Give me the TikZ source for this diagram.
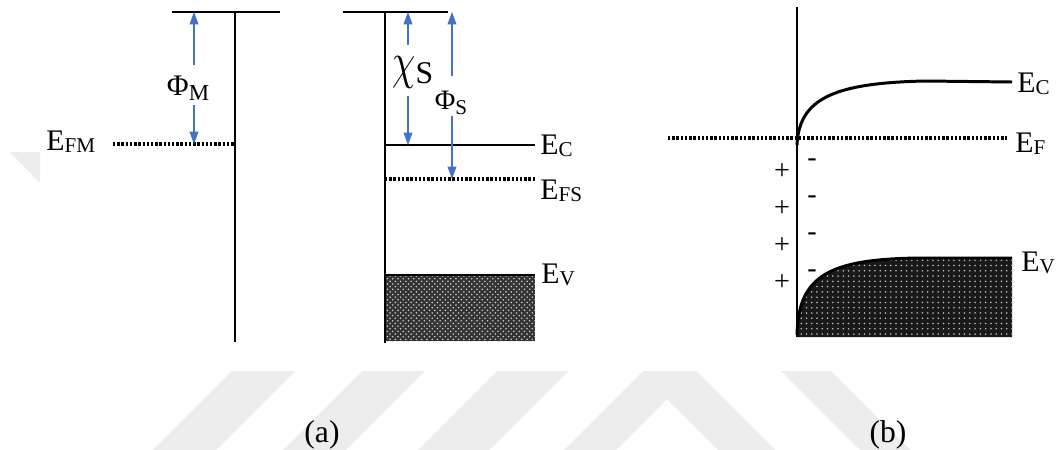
\documentclass[tikz,border=0pt]{standalone}
\usepackage{fontspec}
\setmainfont{Liberation Serif}
\usepackage{graphicx}
\usetikzlibrary{arrows.meta,patterns}
\definecolor{gapblue}{HTML}{4472C4}
\definecolor{markgray}{gray}{0.93}
\newcommand{\lvl}[2]{#1\raisebox{-1.2pt}{\fontsize{12}{12}\selectfont #2}}

\begin{document}
\begin{tikzpicture}[x=0.02cm, y=-0.02cm,
    level/.style={line width=1.7pt},
    fermi/.style={line width=1.8pt, dash pattern=on 1.4pt off 1.0pt},
    gap/.style={gapblue, line width=0.6pt, -{Triangle[length=7pt,width=5pt]}},
    lab/.style={anchor=base west, inner sep=0pt, font=\fontsize{17}{17}\selectfont},
    sign/.style={inner sep=0pt, font=\fontsize{16}{16}\selectfont}]

        \useasboundingbox (0,0) rectangle (1056,450);
        \fill[white] (0,0) rectangle (1056,450);

        % watermark
        \fill[markgray] (10,152)--(40,152)--(40,183)--cycle;
        \fill[markgray] (232,371)--(295,371)--(216,450)--(153,450)--cycle;
        \fill[markgray] (362,371)--(425,371)--(346,450)--(283,450)--cycle;
        \fill[markgray] (497,371)--(568,371)--(489,450)--(418,450)--cycle;
        \fill[markgray] (643,371)--(696,371)--(775,450)--(718,450)--(667,399)--(616,450)--(564,450)--cycle;
        \fill[markgray] (781,371)--(831,371)--(910,450)--(860,450)--cycle;

        \coordinate (mTL) at (172,12);
        \coordinate (mTR) at (280,12);
        \coordinate (mTop) at (235,12);
        \coordinate (mBot) at (235,342);
        \coordinate (fmL) at (113,144);
        \coordinate (fmR) at (235,144);
        \coordinate (sTL) at (343,12);
        \coordinate (sTR) at (448,12);
        \coordinate (sTop) at (385,12);
        \coordinate (sBot) at (385,343);
        \coordinate (ecL) at (385,145);
        \coordinate (ecR) at (535,145);
        \coordinate (fsL) at (385,179);
        \coordinate (fsR) at (535,179);
        \coordinate (evL) at (385,275);
        \coordinate (evR) at (535,275);
        \coordinate (evB) at (535,341);

        % (a) metal
        \draw[level] (mTL)--(mTR);
        \draw[level] (mTop)--(mBot);
        \draw[fermi] (fmL)--(fmR);
        \node[lab] (efm) at (46,150) {\lvl{E}{FM}};
        \node[inner sep=0pt] (phiM) at (188,88) {{\fontsize{17}{17}\selectfont Φ}\raisebox{-3pt}{\fontsize{13}{13}\selectfont M}};
        \draw[gap] (194,65)--(194,12);
        \draw[gap] (194,105)--(194,144);

        % (a) semiconductor
        \fill[black!80] (evL) rectangle (evB);
        \fill[pattern=crosshatch dots, pattern color=white!80!black] (evL) rectangle (evB);
        \draw[level] (sTL)--(sTR);
        \draw[level] (sTop)--(sBot);
        \draw[level] (ecL)--(ecR);
        \draw[fermi] (fsL)--(fsR);
        \draw[level] (evL)--(evR);
        \node[lab] (ec) at (540,154) {\lvl{E}{C}};
        \node[lab] (efs) at (540,199) {\lvl{E}{FS}};
        \node[lab] (ev) at (541,283) {\lvl{E}{V}};
        \node[inner sep=0pt] (chiS) at (413,72) {\raisebox{3pt}{\scalebox{2.1}[2.9]{$\chi$}}{\fontsize{18}{18}\selectfont S}};
        \node[inner sep=0pt] (phiS) at (451,103) {{\fontsize{16}{16}\selectfont Φ}\raisebox{-2.5pt}{\fontsize{12}{12}\selectfont S}};
        \draw[gap] (408,45)--(408,12);
        \draw[gap] (408,96)--(408,145);
        \draw[gap] (452,76)--(452,12);
        \draw[gap] (452,116)--(452,179);

        % (b) band bending
        \coordinate (bTop) at (797,7);
        \coordinate (bBot) at (797,337);
        \coordinate (fL) at (668,138);
        \coordinate (fR) at (1007,138);
        \fill[black!90] (797,337)--(797,335) .. controls (798,275) and (830,259) .. (920,258)--(1012,258)--(1012,337)--cycle;
        \fill[pattern=dots, pattern color=white!75!black] (797,337)--(797,335) .. controls (798,275) and (830,259) .. (920,258)--(1012,258)--(1012,337)--cycle;
        \draw[level] (797,335) .. controls (798,275) and (830,259) .. (920,258)--(1012,258);
        \draw[level] (797,145) .. controls (799,98) and (835,83) .. (925,81)--(1012,82);
        \draw[level] (bTop)--(bBot);
        \draw[fermi] (fL)--(fR);
        \node[lab] (bec) at (1017,92) {\lvl{E}{C}};
        \node[lab] (bef) at (1015,152) {\lvl{E}{F}};
        \node[lab] (bev) at (1021,271) {\lvl{E}{V}};
        \foreach \k in {0,...,3} {
            \node[sign] (plus\k) at (782,172+37*\k) {+};
            \node[sign] (minus\k) at (812,163+37*\k) {-};
        }

        \node[font=\fontsize{18}{18}\selectfont] (capa) at (322,435) {(a)};
        \node[font=\fontsize{18}{18}\selectfont] (capb) at (888,435) {(b)};

    \end{tikzpicture}
\end{document}
